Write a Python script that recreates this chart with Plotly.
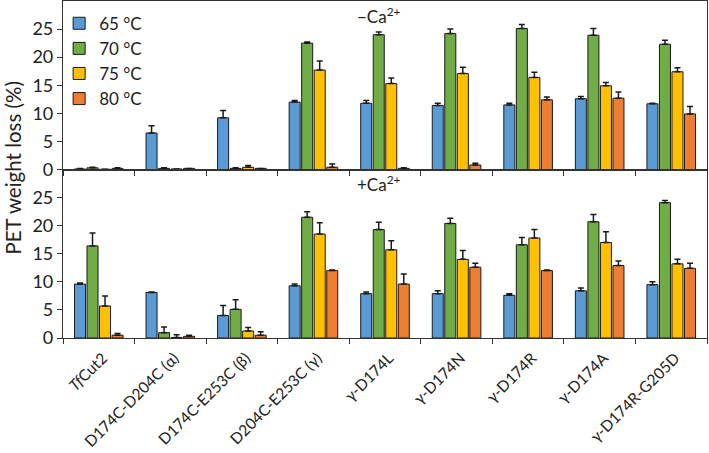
import plotly.graph_objects as go
from plotly.subplots import make_subplots

categories = ["<i>Tf</i>Cut2", "D174C-D204C (α)", "D174C-E253C (β)", "D204C-E253C (γ)",
              "γ-D174L", "γ-D174N", "γ-D174R", "γ-D174A", "γ-D174R-G205D"]
temps = ["65 °C", "70 °C", "75 °C", "80 °C"]
colors = ["#5B9BD5", "#70AD47", "#FFC000", "#ED7D31"]

# −Ca2+ (top panel)
noca_65 = [0.1, 6.5, 9.2, 12.0, 11.8, 11.4, 11.5, 12.6, 11.7]
noca_70 = [0.3, 0.2, 0.2, 22.5, 24.0, 24.2, 25.1, 23.9, 22.3]
noca_75 = [0.05, 0.1, 0.4, 17.7, 15.3, 17.1, 16.4, 14.9, 17.4]
noca_80 = [0.2, 0.2, 0.2, 0.4, 0.2, 0.8, 12.4, 12.7, 9.9]
noca_65_err = [0.1, 1.3, 1.3, 0.3, 0.5, 0.4, 0.3, 0.4, 0.1]
noca_70_err = [0.1, 0.1, 0.1, 0.2, 0.5, 0.8, 0.7, 1.2, 0.7]
noca_75_err = [0.0, 0.0, 0.3, 1.6, 1.0, 1.1, 0.9, 0.6, 0.7]
noca_80_err = [0.1, 0.0, 0.0, 0.6, 0.1, 0.3, 0.5, 1.1, 1.3]

# +Ca2+ (bottom panel)
ca_65 = [9.6, 8.1, 4.0, 9.3, 7.9, 7.9, 7.6, 8.4, 9.5]
ca_70 = [16.4, 0.95, 5.1, 21.5, 19.3, 20.4, 16.6, 20.7, 24.1]
ca_75 = [5.7, 0.1, 1.25, 18.5, 15.7, 14.0, 17.8, 17.0, 13.2]
ca_80 = [0.5, 0.3, 0.5, 12.0, 9.6, 12.6, 12.0, 12.9, 12.4]
ca_65_err = [0.2, 0.1, 1.8, 0.3, 0.3, 0.5, 0.3, 0.5, 0.5]
ca_70_err = [2.3, 1.0, 1.7, 1.0, 1.3, 0.9, 1.3, 1.3, 0.4]
ca_75_err = [1.8, 0.5, 0.6, 2.0, 1.6, 1.6, 1.5, 1.9, 0.8]
ca_80_err = [0.3, 0.2, 0.6, 0.1, 1.8, 0.7, 0.1, 0.8, 0.9]

top_vals = [noca_65, noca_70, noca_75, noca_80]
top_errs = [noca_65_err, noca_70_err, noca_75_err, noca_80_err]
bot_vals = [ca_65, ca_70, ca_75, ca_80]
bot_errs = [ca_65_err, ca_70_err, ca_75_err, ca_80_err]

FONT = "Lato, 'Open Sans', sans-serif"

fig = make_subplots(rows=2, cols=1, shared_xaxes=True, vertical_spacing=0)

for i in range(4):
    for row, vals, errs in ((1, top_vals, top_errs), (2, bot_vals, bot_errs)):
        fig.add_trace(go.Bar(
            x=categories, y=vals[i], name=temps[i],
            marker=dict(color=colors[i], line=dict(color="#1a1a1a", width=1)),
            error_y=dict(type="data", symmetric=False, array=errs[i],
                         arrayminus=[0] * len(errs[i]),
                         color="#1a1a1a", thickness=1.5, width=3),
            showlegend=(row == 1), legendgroup=temps[i],
        ), row=row, col=1)

axis_common = dict(showline=True, linecolor="#333", linewidth=1.2, mirror=True,
                   ticks="outside", ticklen=5, tickcolor="#333", showgrid=False,
                   zeroline=False, automargin=False)

fig.update_yaxes(range=[0, 30], tickvals=[0, 5, 10, 15, 20, 25],
                 tickfont=dict(family=FONT, size=18, color="#222"), **axis_common)
fig.update_xaxes(tickson="boundaries", tickangle=-45, range=[-0.5, 8.5],
                 ticklabelshift=4, ticklabelstandoff=4,
                 tickfont=dict(family=FONT, size=15.5, color="#222"), **axis_common)
fig.update_xaxes(showticklabels=False, row=1, col=1)

fig.add_annotation(text="−Ca<sup>2+</sup>", x=0.49, y=0.957, xref="paper", yref="paper",
                   xanchor="center", yanchor="middle", showarrow=False,
                   font=dict(family=FONT, size=17, color="#222"))
fig.add_annotation(text="+Ca<sup>2+</sup>", x=0.49, y=0.457, xref="paper", yref="paper",
                   xanchor="center", yanchor="middle", showarrow=False,
                   font=dict(family=FONT, size=17, color="#222"))
fig.add_annotation(text="PET weight loss (%)", x=-0.078, y=0.505, xref="paper", yref="paper",
                   xanchor="center", yanchor="middle", textangle=-90, showarrow=False,
                   font=dict(family=FONT, size=20.5, color="#222"))

fig.update_layout(
    width=709, height=453,
    margin=dict(l=63, r=2, t=1, b=115),
    barmode="group", bargap=0.3, bargroupgap=0.12,
    plot_bgcolor="white", paper_bgcolor="white",
    legend=dict(x=-0.006, y=0.986, xanchor="left", yanchor="top",
                bgcolor="rgba(0,0,0,0)", font=dict(family=FONT, size=17, color="#222"),
                tracegroupgap=0, itemwidth=30),
    font=dict(family=FONT),
)

fig.write_html("out.html", config={"displayModeBar": False},
               post_script="document.body.style.margin='0';document.body.style.overflow='hidden';")
